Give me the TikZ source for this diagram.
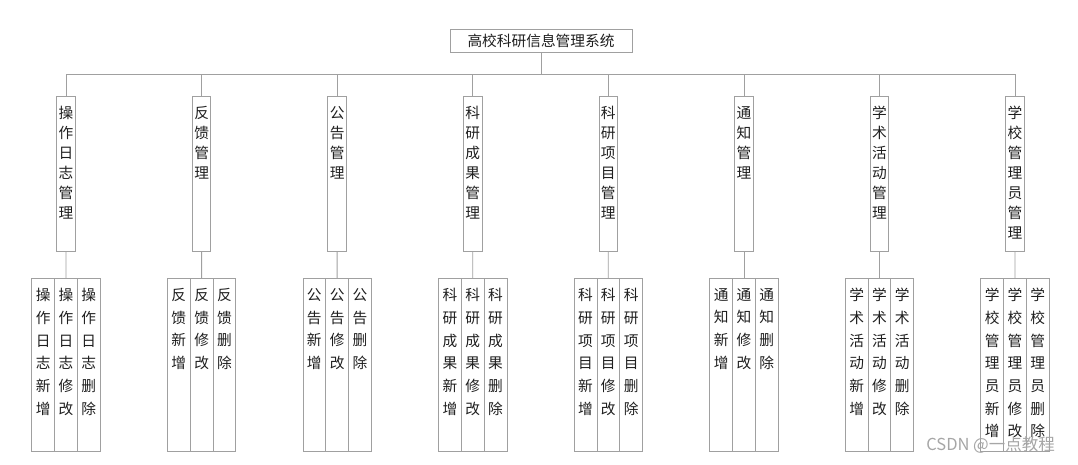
\documentclass[tikz,border=0pt]{standalone}
\usepackage{fontspec}
\usepackage{tikz}
\usetikzlibrary{positioning}
\newfontfamily\cjk{Noto Sans CJK SC}
\definecolor{lineGray}{HTML}{A0A0A0}
\definecolor{textDark}{HTML}{1E1E1E}
\newcommand{\vcol}[2]{\parbox[t][#1][t]{16pt}{\centering #2}}

\begin{document}
\begin{tikzpicture}[x=1pt, y=-1pt,
        every node/.style={text=textDark, outer sep=0pt},
        sysbox/.style={draw=lineGray, line width=0.8pt, minimum width=182pt, minimum height=23pt, inner sep=0pt, font=\cjk\fontsize{14.7}{17}\selectfont},
        modbox/.style={draw=lineGray, line width=0.8pt, anchor=north, minimum width=18.5pt, inner xsep=0pt, inner ysep=10pt, font=\cjk\fontsize{14.7}{20}\selectfont},
        opbox/.style={draw=lineGray, line width=0.8pt, anchor=north, minimum width=22.8pt, inner xsep=0pt, inner ysep=10pt, font=\cjk\fontsize{14.7}{22.7}\selectfont},
        link/.style={draw=lineGray, line width=0.8pt}
    ]
        \useasboundingbox (0,0) rectangle (1078,464);

        \node[sysbox] (root) at (541,40.8) {高校科研信息管理系统};

        % modules
        \node[modbox] (oplog) at (66,96.5) {\vcol{135pt}{操\\作\\日\\志\\管\\理}};
        \node[modbox] (feedback) at (201.6,96.5) {\vcol{135pt}{反\\馈\\管\\理}};
        \node[modbox] (notice) at (337.1,96.5) {\vcol{135pt}{公\\告\\管\\理}};
        \node[modbox] (result) at (472.7,96.5) {\vcol{135pt}{科\\研\\成\\果\\管\\理}};
        \node[modbox] (project) at (608.3,96.5) {\vcol{135pt}{科\\研\\项\\目\\管\\理}};
        \node[modbox] (inform) at (743.9,96.5) {\vcol{135pt}{通\\知\\管\\理}};
        \node[modbox] (activity) at (879.4,96.5) {\vcol{135pt}{学\\术\\活\\动\\管\\理}};
        \node[modbox] (admin) at (1015,96.5) {\vcol{135pt}{学\\校\\管\\理\\员\\管\\理}};

        % operations
        \node[opbox] (oplogadd) at (43.2,278.3) {\vcol{153.4pt}{操\\作\\日\\志\\新\\增}};
        \node[opbox, right=0pt of oplogadd.north east, anchor=north west] (oplogedit) {\vcol{153.4pt}{操\\作\\日\\志\\修\\改}};
        \node[opbox, right=0pt of oplogedit.north east, anchor=north west] (oplogdel) {\vcol{153.4pt}{操\\作\\日\\志\\删\\除}};

        \node[opbox] (feedbackadd) at (178.8,278.3) {\vcol{153.4pt}{反\\馈\\新\\增}};
        \node[opbox, right=0pt of feedbackadd.north east, anchor=north west] (feedbackedit) {\vcol{153.4pt}{反\\馈\\修\\改}};
        \node[opbox, right=0pt of feedbackedit.north east, anchor=north west] (feedbackdel) {\vcol{153.4pt}{反\\馈\\删\\除}};

        \node[opbox] (noticeadd) at (314.3,278.3) {\vcol{153.4pt}{公\\告\\新\\增}};
        \node[opbox, right=0pt of noticeadd.north east, anchor=north west] (noticeedit) {\vcol{153.4pt}{公\\告\\修\\改}};
        \node[opbox, right=0pt of noticeedit.north east, anchor=north west] (noticedel) {\vcol{153.4pt}{公\\告\\删\\除}};

        \node[opbox] (resultadd) at (449.9,278.3) {\vcol{153.4pt}{科\\研\\成\\果\\新\\增}};
        \node[opbox, right=0pt of resultadd.north east, anchor=north west] (resultedit) {\vcol{153.4pt}{科\\研\\成\\果\\修\\改}};
        \node[opbox, right=0pt of resultedit.north east, anchor=north west] (resultdel) {\vcol{153.4pt}{科\\研\\成\\果\\删\\除}};

        \node[opbox] (projectadd) at (585.5,278.3) {\vcol{153.4pt}{科\\研\\项\\目\\新\\增}};
        \node[opbox, right=0pt of projectadd.north east, anchor=north west] (projectedit) {\vcol{153.4pt}{科\\研\\项\\目\\修\\改}};
        \node[opbox, right=0pt of projectedit.north east, anchor=north west] (projectdel) {\vcol{153.4pt}{科\\研\\项\\目\\删\\除}};

        \node[opbox] (informadd) at (721.1,278.3) {\vcol{153.4pt}{通\\知\\新\\增}};
        \node[opbox, right=0pt of informadd.north east, anchor=north west] (informedit) {\vcol{153.4pt}{通\\知\\修\\改}};
        \node[opbox, right=0pt of informedit.north east, anchor=north west] (informdel) {\vcol{153.4pt}{通\\知\\删\\除}};

        \node[opbox] (activityadd) at (856.6,278.3) {\vcol{153.4pt}{学\\术\\活\\动\\新\\增}};
        \node[opbox, right=0pt of activityadd.north east, anchor=north west] (activityedit) {\vcol{153.4pt}{学\\术\\活\\动\\修\\改}};
        \node[opbox, right=0pt of activityedit.north east, anchor=north west] (activitydel) {\vcol{153.4pt}{学\\术\\活\\动\\删\\除}};

        \node[opbox] (adminadd) at (992.2,278.3) {\vcol{153.4pt}{学\\校\\管\\理\\员\\新\\增}};
        \node[opbox, right=0pt of adminadd.north east, anchor=north west] (adminedit) {\vcol{153.4pt}{学\\校\\管\\理\\员\\修\\改}};
        \node[opbox, right=0pt of adminedit.north east, anchor=north west] (admindel) {\vcol{153.4pt}{学\\校\\管\\理\\员\\删\\除}};

        % tree lines
        \draw[link] (root.south) -- ++(0,21.7) -| (oplog.north);
        \draw[link] (root.south) -- ++(0,21.7) -| (feedback.north);
        \draw[link] (root.south) -- ++(0,21.7) -| (notice.north);
        \draw[link] (root.south) -- ++(0,21.7) -| (result.north);
        \draw[link] (root.south) -- ++(0,21.7) -| (project.north);
        \draw[link] (root.south) -- ++(0,21.7) -| (inform.north);
        \draw[link] (root.south) -- ++(0,21.7) -| (activity.north);
        \draw[link] (root.south) -- ++(0,21.7) -| (admin.north);

        \draw[link] (oplog.south) -- (oplogedit.north);
        \draw[link] (feedback.south) -- (feedbackedit.north);
        \draw[link] (notice.south) -- (noticeedit.north);
        \draw[link] (result.south) -- (resultedit.north);
        \draw[link] (project.south) -- (projectedit.north);
        \draw[link] (inform.south) -- (informedit.north);
        \draw[link] (activity.south) -- (activityedit.north);
        \draw[link] (admin.south) -- (adminedit.north);

        \node[text=gray!70, font=\cjk\fontsize{16.5}{19}\selectfont, anchor=west] (mark) at (923,445) {CSDN @一点教程};
    \end{tikzpicture}
\end{document}
